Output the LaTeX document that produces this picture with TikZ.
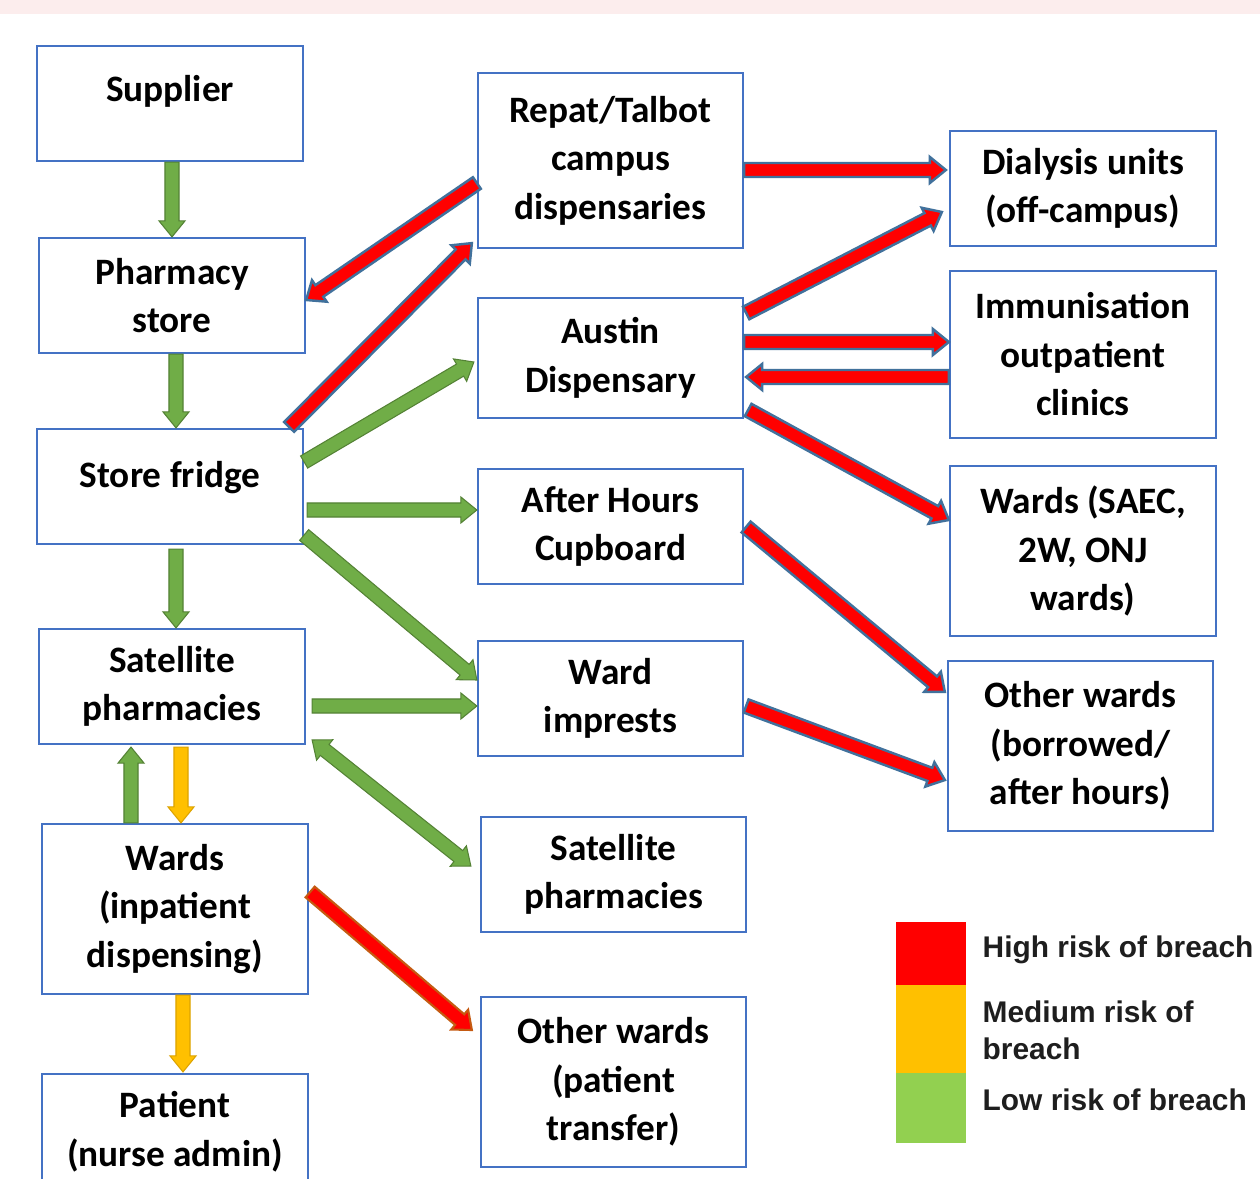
\documentclass[tikz,border=0pt]{standalone}
\usepackage{fontspec}
\setmainfont{Carlito}
\newfontfamily\legendfont{Liberation Sans}
\usetikzlibrary{calc}

\definecolor{boxblue}{HTML}{4472C4}
\definecolor{lowgreen}{HTML}{70AD47}
\definecolor{lowgreendark}{HTML}{548235}
\definecolor{redline}{HTML}{41719C}
\definecolor{amber}{HTML}{FFC000}
\definecolor{amberdark}{HTML}{DDA300}
\definecolor{rustline}{HTML}{C55A11}
\definecolor{keygreen}{HTML}{92D050}
\definecolor{topband}{HTML}{FCEDED}
\definecolor{keytext}{HTML}{1E1E1E}

\tikzset{
    flowbox/.style={draw=boxblue, line width=0.6pt, fill=white, minimum width=2.66cm,
        minimum height=1.15cm, align=center, font=\bfseries\fontsize{10.6}{13.8}\selectfont},
    greenarrow/.style={fill=lowgreen, draw=lowgreendark, line width=0.3pt},
    redarrow/.style={fill=red, draw=redline, line width=0.7pt},
    amberarrow/.style={fill=amber, draw=amberdark, line width=0.3pt},
    rustarrow/.style={fill=red, draw=rustline, line width=0.6pt},
    keytext/.style={anchor=west, align=left, inner sep=0pt, text=keytext,
        font=\legendfont\bfseries\fontsize{8.5}{10.5}\selectfont}
}

% block arrow between two points
\newcommand{\flowarrow}[3][greenarrow]{%
    \coordinate (fa-s) at (#2);
    \coordinate (fa-e) at (#3);
    \draw [#1] ($(fa-s)!0.07cm!90:(fa-e)$)
        -- ($(fa-e)!0.16cm!(fa-s)!0.07cm!-90:(fa-s)$)
        -- ($(fa-e)!0.16cm!(fa-s)!0.13cm!-90:(fa-s)$)
        -- (fa-e)
        -- ($(fa-e)!0.16cm!(fa-s)!0.13cm!90:(fa-s)$)
        -- ($(fa-e)!0.16cm!(fa-s)!0.07cm!90:(fa-s)$)
        -- ($(fa-s)!0.07cm!-90:(fa-e)$) -- cycle;
}
% same with a head at both ends
\newcommand{\twowayarrow}[3][greenarrow]{%
    \coordinate (fa-s) at (#2);
    \coordinate (fa-e) at (#3);
    \draw [#1] (fa-s)
        -- ($(fa-s)!0.16cm!(fa-e)!0.13cm!90:(fa-e)$)
        -- ($(fa-s)!0.16cm!(fa-e)!0.07cm!90:(fa-e)$)
        -- ($(fa-e)!0.16cm!(fa-s)!0.07cm!-90:(fa-s)$)
        -- ($(fa-e)!0.16cm!(fa-s)!0.13cm!-90:(fa-s)$)
        -- (fa-e)
        -- ($(fa-e)!0.16cm!(fa-s)!0.13cm!90:(fa-s)$)
        -- ($(fa-e)!0.16cm!(fa-s)!0.07cm!90:(fa-s)$)
        -- ($(fa-s)!0.16cm!(fa-e)!0.07cm!-90:(fa-e)$)
        -- ($(fa-s)!0.16cm!(fa-e)!0.13cm!-90:(fa-e)$) -- cycle;
}

\begin{document}
\begin{tikzpicture}[x=0.01cm, y=-0.01cm]
                \clip (0, 0) rectangle (1260, 1179);
                \fill [white] (0, 0) rectangle (1260, 1179);
                \fill [topband] (0, 0) rectangle (1260, 14);

                \node [flowbox] (supplier) at (170, 103.5) {\raisebox{8.8pt}{Supplier}};
                \node [flowbox] (pharm) at (172, 295.5) {Pharmacy\\store};
                \node [flowbox] (fridge) at (170, 486.5) {\raisebox{7pt}{Store fridge}};
                \node [flowbox] (satl) at (172, 686.5) {Satellite\\pharmacies};
                \node [flowbox, minimum height=1.7cm] (wardsin) at (175, 909) {Wards\\(inpatient\\dispensing)};
                \node [flowbox] (patient) at (175, 1131.5) {Patient\\(nurse admin)};

                \node [flowbox, minimum width=2.65cm, minimum height=1.75cm] (repat) at (610.5, 160.5) {Repat/Talbot\\campus\\dispensaries};
                \node [flowbox, minimum width=2.65cm, minimum height=1.2cm] (austin) at (610.5, 358) {Austin\\Dispensary};
                \node [flowbox, minimum width=2.65cm] (afterh) at (610.5, 526.5) {After Hours\\Cupboard};
                \node [flowbox, minimum width=2.65cm] (impr) at (610.5, 698.5) {Ward\\imprests};
                \node [flowbox, minimum width=2.65cm] (satm) at (613.5, 874.5) {Satellite\\pharmacies};
                \node [flowbox, minimum width=2.65cm, minimum height=1.7cm] (othpt) at (613.5, 1082) {Other wards\\(patient\\transfer)};

                \node [flowbox] (dial) at (1083, 188.5) {Dialysis units\\(off-campus)};
                \node [flowbox, minimum height=1.67cm] (immun) at (1083, 354.5) {Immunisation\\outpatient\\clinics};
                \node [flowbox, minimum height=1.7cm] (wsaec) at (1083, 551) {Wards (SAEC,\\2W, ONJ\\wards)};
                \node [flowbox, minimum width=2.65cm, minimum height=1.7cm] (othbor) at (1080.5, 746) {Other wards\\(borrowed/\\after hours)};

                \flowarrow{$(supplier.south)+(2,0)$}{pharm.north}
                \flowarrow{$(pharm.south)+(4,0)$}{$(fridge.north)+(6,0)$}
                \flowarrow{$(fridge.south)+(6,4)$}{$(satl.north)+(4,0)$}
                \flowarrow{$(fridge.east)+(0,-24.5)$}{$(austin.west)+(-3,4)$}
                \flowarrow{$(fridge.east)+(3,23.5)$}{$(afterh.west)+(0,-16.5)$}
                \flowarrow{$(fridge.east)+(0,48.5)$}{$(impr.west)+(0,-18.5)$}
                \flowarrow{$(satl.east)+(6,19.5)$}{$(impr.west)+(0,7.5)$}
                \twowayarrow{$(satl.east)+(6,53.5)$}{$(satm.west)+(-9,-8.5)$}
                \flowarrow{$(wardsin.north)+(-44,0)$}{$(satl.south)+(-41,2)$}
                \flowarrow[amberarrow]{$(satl.south)+(9,2)$}{$(wardsin.north)+(6,0)$}
                \flowarrow[amberarrow]{$(wardsin.south)+(8,0)$}{$(patient.north)+(8,-1)$}

                \flowarrow[redarrow]{$(repat.west)+(0,22.5)$}{$(pharm.east)+(0,4.5)$}
                \flowarrow[redarrow]{$(fridge.north east)+(-15,-1)$}{$(repat.south west)+(-5,-6)$}
                \flowarrow[redarrow]{$(repat.east)+(0,9.5)$}{$(dial.west)+(-3,-18.5)$}
                \flowarrow[redarrow]{$(austin.east)+(2,-45)$}{$(dial.west)+(-7,23.5)$}
                \flowarrow[redarrow]{$(austin.east)+(0,-16)$}{$(immun.west)+(0,-12.5)$}
                \flowarrow[redarrow]{$(immun.west)+(0,22.5)$}{$(austin.east)+(2,19)$}
                \flowarrow[redarrow]{$(austin.east)+(4,52)$}{$(wsaec.west)+(0,-31)$}
                \flowarrow[redarrow]{$(afterh.east)+(2,0.5)$}{$(othbor.west)+(-2,-54)$}
                \flowarrow[redarrow]{$(impr.east)+(2,7.5)$}{$(othbor.west)+(-2,34)$}
                \flowarrow[rustarrow]{$(wardsin.east)+(1,-17)$}{$(othpt.west)+(-8,-52)$}

                \fill [red] (896, 922) rectangle (966, 985);
                \fill [amber] (896, 985) rectangle (966, 1073);
                \fill [keygreen] (896, 1073) rectangle (966, 1143);
                \node [keytext] (khigh) at (982, 950) {High risk of breach};
                \node [keytext] (kmed) at (982, 1030) {Medium risk of\\breach};
                \node [keytext] (klow) at (982, 1100) {Low risk of breach};
\end{tikzpicture}
\end{document}
